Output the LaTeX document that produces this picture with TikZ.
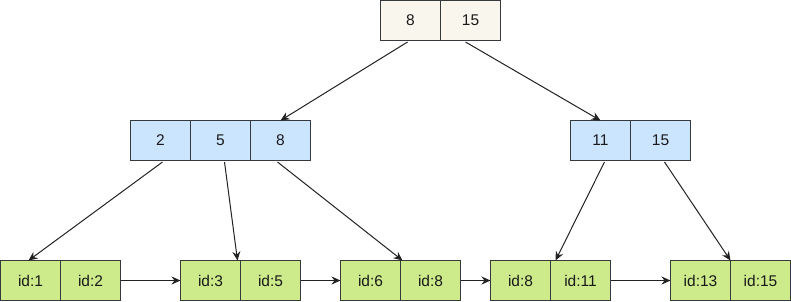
\documentclass[tikz,border=0pt]{standalone}
\usepackage{fontspec}
\setmainfont{Liberation Sans}
\usetikzlibrary{arrows.meta,calc}
\definecolor{topfill}{HTML}{F9F7ED}
\definecolor{midfill}{HTML}{CCE5FF}
\definecolor{leaffill}{HTML}{CDEB8B}
\definecolor{edgecol}{HTML}{36393D}
\definecolor{txtcol}{HTML}{1A1A1A}
\definecolor{arrcol}{HTML}{222222}
\tikzset{
  cell/.style={draw=edgecol, line width=1pt, minimum width=60pt, minimum height=40pt,
    inner sep=0pt, outer sep=0pt, text=txtcol, font=\fontsize{15.5}{18}\selectfont},
  topcell/.style={cell, fill=topfill},
  midcell/.style={cell, fill=midfill},
  leafcell/.style={cell, fill=leaffill},
  link/.style={draw=arrcol, line width=1pt, -{Stealth[length=9pt,width=8pt,inset=3pt]}}
}
\begin{document}
\begin{tikzpicture}[x=1pt,y=-1pt]
\useasboundingbox (-0.5,-0.5) rectangle (790.5,300.5);
% root
\node[topcell] (t1) at (410,20) {8};
\node[topcell] (t2) at (470,20) {15};
% middle
\node[midcell] (m1) at (160,140) {2};
\node[midcell] (m2) at (220,140) {5};
\node[midcell] (m3) at (280,140) {8};
\node[midcell] (r1) at (600,140) {11};
\node[midcell] (r2) at (660,140) {15};
% leaves
\node[leafcell] (l1a) at (30,280) {id:1};
\node[leafcell] (l1b) at (90,280) {id:2};
\node[leafcell] (l2a) at (210,280) {id:3};
\node[leafcell] (l2b) at (270,280) {id:5};
\node[leafcell] (l3a) at (370,280) {id:6};
\node[leafcell] (l3b) at (430,280) {id:8};
\node[leafcell] (l4a) at (520,280) {id:8};
\node[leafcell] (l4b) at (580,280) {id:11};
\node[leafcell] (l5a) at (700,280) {id:13};
\node[leafcell] (l5b) at (760,280) {id:15};
% tree links
\draw[link] ($(t1.south)+(-3,1.5)$) -- (m3.north);
\draw[link] ($(t2.south)+(-5,1.5)$) -- (r1.north);
\draw[link] ($(m1.south)+(2,1.5)$) -- ($(l1a.north)+(-2,0)$);
\draw[link] ($(m2.south)+(4,1.5)$) -- ($(l2a.north east)+(-3,0)$);
\draw[link] ($(m3.south)+(-3,1.5)$) -- ($(l3a.north east)+(2,0)$);
\draw[link] ($(r1.south)+(4,1.5)$) -- ($(l4a.north east)+(5,0)$);
\draw[link] ($(r2.south)+(4,1.5)$) -- (l5a.north east);
% leaf chain
\draw[link] (l1b.east) -- (l2a.west);
\draw[link] (l2b.east) -- (l3a.west);
\draw[link] (l3b.east) -- (l4a.west);
\draw[link] (l4b.east) -- (l5a.west);
\end{tikzpicture}
\end{document}
